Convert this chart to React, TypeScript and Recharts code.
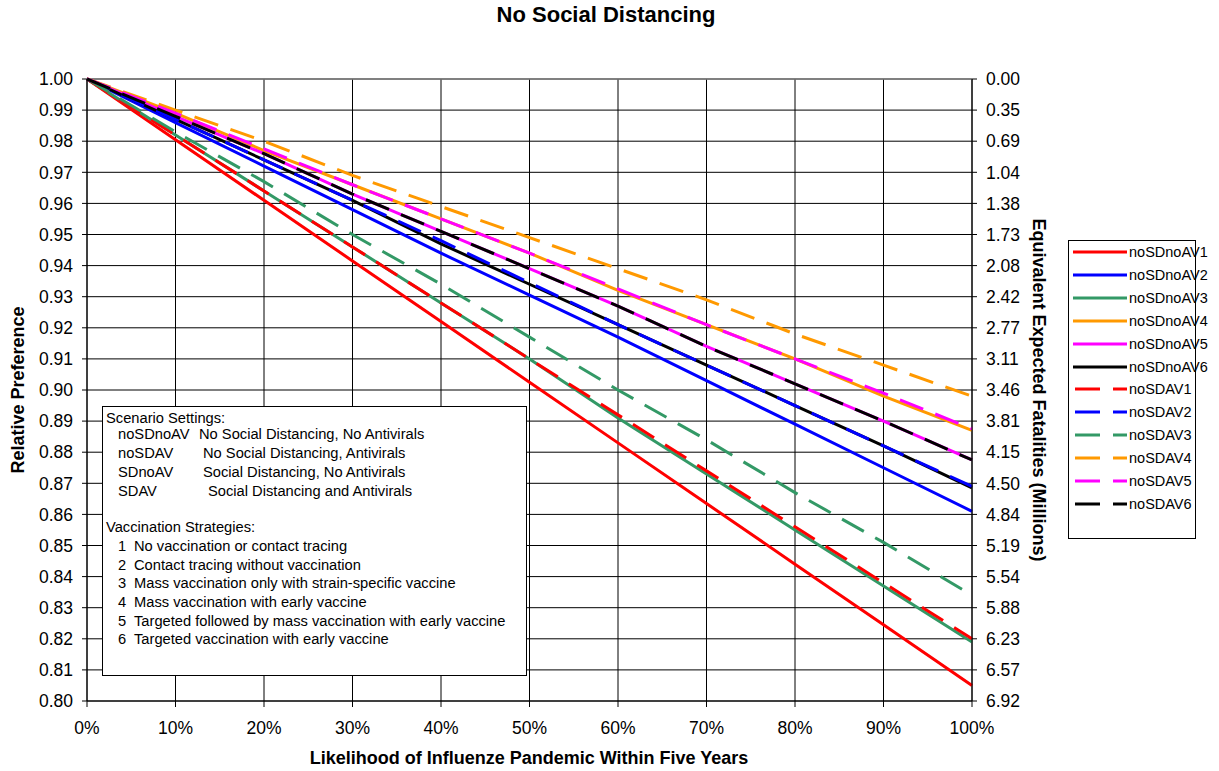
import {
  CartesianGrid,
  Line,
  LineChart,
  ReferenceLine,
  XAxis,
  YAxis,
} from "recharts";

// x: likelihood of pandemic (%), y: relative preference
const likelihood = [0, 10, 20, 30, 40, 50, 60, 70, 80, 90, 100];

const noSDnoAV1 = [1, 0.9805, 0.961, 0.9415, 0.922, 0.9025, 0.883, 0.8635, 0.844, 0.8245, 0.805];
const noSDnoAV2 = [1, 0.986, 0.972, 0.958, 0.944, 0.9305, 0.917, 0.903, 0.889, 0.875, 0.861];
const noSDnoAV3 = [1, 0.982, 0.964, 0.946, 0.928, 0.91, 0.891, 0.873, 0.855, 0.837, 0.819];
const noSDnoAV4 = [1, 0.989, 0.977, 0.966, 0.955, 0.944, 0.932, 0.921, 0.91, 0.898, 0.887];
const noSDnoAV5 = [1, 0.988, 0.976, 0.963, 0.951, 0.939, 0.927, 0.914, 0.902, 0.89, 0.8775];
const noSDnoAV6 = [1, 0.987, 0.974, 0.961, 0.947, 0.934, 0.921, 0.908, 0.895, 0.882, 0.8685];
const noSDAV1 = [1, 0.982, 0.964, 0.946, 0.928, 0.91, 0.892, 0.874, 0.856, 0.838, 0.82];
const noSDAV2 = [1, 0.987, 0.974, 0.961, 0.948, 0.9345, 0.921, 0.908, 0.895, 0.882, 0.869];
const noSDAV3 = [1, 0.983, 0.967, 0.95, 0.934, 0.917, 0.9, 0.884, 0.867, 0.851, 0.834];
const noSDAV4 = [1, 0.99, 0.98, 0.969, 0.959, 0.949, 0.939, 0.929, 0.918, 0.908, 0.898];
const noSDAV5 = [1, 0.989, 0.9775, 0.966, 0.955, 0.944, 0.9325, 0.921, 0.91, 0.899, 0.8875];
const noSDAV6 = [1, 0.988, 0.976, 0.963, 0.951, 0.939, 0.927, 0.914, 0.902, 0.89, 0.8775];

const xTicks = [0, 10, 20, 30, 40, 50, 60, 70, 80, 90, 100];
const leftTicks = [
  0.8, 0.81, 0.82, 0.83, 0.84, 0.85, 0.86, 0.87, 0.88, 0.89, 0.9, 0.91, 0.92,
  0.93, 0.94, 0.95, 0.96, 0.97, 0.98, 0.99, 1.0,
];
// right axis labels, top (1.00) to bottom (0.80)
const fatalityLabels = [
  "0.00", "0.35", "0.69", "1.04", "1.38", "1.73", "2.08", "2.42", "2.77",
  "3.11", "3.46", "3.81", "4.15", "4.50", "4.84", "5.19", "5.54", "5.88",
  "6.23", "6.57", "6.92",
];

const series = [
  { key: "noSDnoAV1", values: noSDnoAV1, color: "#FF0000", dashed: false },
  { key: "noSDnoAV2", values: noSDnoAV2, color: "#0000FF", dashed: false },
  { key: "noSDnoAV3", values: noSDnoAV3, color: "#339966", dashed: false },
  { key: "noSDnoAV4", values: noSDnoAV4, color: "#FF9900", dashed: false },
  { key: "noSDnoAV5", values: noSDnoAV5, color: "#FF00FF", dashed: false },
  { key: "noSDnoAV6", values: noSDnoAV6, color: "#000000", dashed: false },
  { key: "noSDAV1", values: noSDAV1, color: "#FF0000", dashed: true },
  { key: "noSDAV2", values: noSDAV2, color: "#0000FF", dashed: true },
  { key: "noSDAV3", values: noSDAV3, color: "#339966", dashed: true },
  { key: "noSDAV4", values: noSDAV4, color: "#FF9900", dashed: true },
  { key: "noSDAV5", values: noSDAV5, color: "#FF00FF", dashed: true },
  { key: "noSDAV6", values: noSDAV6, color: "#000000", dashed: true },
];

const data = likelihood.map((x, i) => {
  const row: Record<string, number> = { x };
  series.forEach((s) => (row[s.key] = s.values[i]));
  return row;
});

const FONT = '"Liberation Sans", Arial, sans-serif';
const DASH = "25 13";
const tickStyle = { fontSize: 17.5, fill: "#000", fontFamily: FONT };

// note box, one entry per text line: [x, centerY, text]
const noteLines: [number, number, string][] = [
  [106, 418, "Scenario Settings:"],
  [118, 434, "noSDnoAV"],
  [199, 434, "No Social Distancing, No Antivirals"],
  [118, 453, "noSDAV"],
  [203, 453, "No Social Distancing, Antivirals"],
  [118, 472, "SDnoAV"],
  [203, 472, "Social Distancing, No Antivirals"],
  [118, 491, "SDAV"],
  [208, 491, "Social Distancing and Antivirals"],
  [106, 527, "Vaccination Strategies:"],
  [118, 546, "1"],
  [134, 546, "No vaccination or contact tracing"],
  [118, 565, "2"],
  [134, 565, "Contact tracing without vaccination"],
  [118, 583, "3"],
  [134, 583, "Mass vaccination only with strain-specific vaccine"],
  [118, 602, "4"],
  [134, 602, "Mass vaccination with early vaccine"],
  [118, 621, "5"],
  [134, 621, "Targeted followed by mass vaccination with early vaccine"],
  [118, 639, "6"],
  [134, 639, "Targeted vaccination with early vaccine"],
];

export default function App() {
  return (
    <div
      style={{
        position: "absolute",
        left: 0,
        top: 0,
        width: 1219,
        height: 771,
        background: "#fff",
        fontFamily: FONT,
        color: "#000",
      }}
    >
      <LineChart
        width={1219}
        height={771}
        data={data}
        margin={{ top: 79, right: 0, bottom: 0, left: 0 }}
      >
        <CartesianGrid stroke="#000" strokeWidth={1} yAxisId="left" />
        <XAxis
          dataKey="x"
          type="number"
          domain={[0, 100]}
          ticks={xTicks}
          tickFormatter={(v: number) => `${v}%`}
          tick={tickStyle}
          tickSize={6}
          tickMargin={15}
          height={70}
          stroke="#000"
          tickLine={{ stroke: "#000" }}
        />
        <YAxis
          yAxisId="left"
          type="number"
          domain={[0.8, 1]}
          ticks={leftTicks}
          tickFormatter={(v: number) => v.toFixed(2)}
          tick={tickStyle}
          tickSize={5}
          tickMargin={9}
          width={87}
          stroke="#000"
          interval={0}
        />
        <YAxis
          yAxisId="right"
          orientation="right"
          type="number"
          domain={[0.8, 1]}
          allowDataOverflow
          ticks={leftTicks}
          tickFormatter={(v: number) => fatalityLabels[Math.round((1 - v) * 100)]}
          tick={tickStyle}
          tickSize={5}
          tickMargin={9}
          width={247}
          stroke="#000"
          interval={0}
        />
        <ReferenceLine yAxisId="left" y={1} stroke="#808080" strokeWidth={1.5} />
        {series.map((s) => (
          <Line
            key={s.key}
            yAxisId="left"
            type="linear"
            dataKey={s.key}
            stroke={s.color}
            strokeWidth={3}
            strokeDasharray={s.dashed ? DASH : undefined}
            dot={false}
            activeDot={false}
            isAnimationActive={false}
          />
        ))}
      </LineChart>

      {/* title */}
      <div
        style={{
          position: "absolute",
          left: 0,
          width: 1212,
          top: 2,
          textAlign: "center",
          fontWeight: "bold",
          fontSize: 22,
        }}
      >
        No Social Distancing
      </div>

      {/* left axis title */}
      <div
        style={{
          position: "absolute",
          left: 18,
          top: 390,
          transform: "translate(-50%, -50%) rotate(-90deg)",
          whiteSpace: "nowrap",
          fontWeight: "bold",
          fontSize: 18,
        }}
      >
        Relative Preference
      </div>

      {/* right axis title */}
      <div
        style={{
          position: "absolute",
          left: 1038,
          top: 390,
          transform: "translate(-50%, -50%) rotate(90deg)",
          whiteSpace: "nowrap",
          fontWeight: "bold",
          fontSize: 18,
        }}
      >
        Equivalent Expected Fatalities (Millions)
      </div>

      {/* x axis title */}
      <div
        style={{
          position: "absolute",
          left: 529,
          top: 758,
          transform: "translate(-50%, -50%)",
          whiteSpace: "nowrap",
          fontWeight: "bold",
          fontSize: 18,
        }}
      >
        Likelihood of Influenze Pandemic Within Five Years
      </div>

      {/* notes box */}
      <div
        style={{
          position: "absolute",
          left: 102,
          top: 406,
          width: 425,
          height: 270,
          background: "#fff",
          border: "1.5px solid #000",
          boxSizing: "border-box",
        }}
      />
      {noteLines.map(([x, cy, text], i) => (
        <div
          key={i}
          style={{
            position: "absolute",
            left: x,
            top: cy - 9,
            lineHeight: "18px",
            fontSize: 14.7,
            whiteSpace: "nowrap",
          }}
        >
          {text}
        </div>
      ))}

      {/* legend */}
      <div
        style={{
          position: "absolute",
          left: 1068,
          top: 240,
          width: 128,
          height: 299,
          border: "1px solid #000",
          boxSizing: "border-box",
          background: "#fff",
        }}
      >
        {series.map((s, i) => (
          <div
            key={s.key}
            style={{
              position: "absolute",
              left: 0,
              top: 11 + i * 22.9 - 9,
              height: 18,
              display: "flex",
              alignItems: "center",
            }}
          >
            <svg width={60} height={18} style={{ display: "block" }}>
              {s.dashed ? (
                <line x1={6} x2={58} y1={9} y2={9} stroke={s.color} strokeWidth={3} strokeDasharray={DASH} />
              ) : (
                <line x1={4} x2={58} y1={9} y2={9} stroke={s.color} strokeWidth={3} />
              )}
            </svg>
            <span style={{ fontSize: 14.5, lineHeight: "18px", whiteSpace: "nowrap" }}>{s.key}</span>
          </div>
        ))}
      </div>
    </div>
  );
}
